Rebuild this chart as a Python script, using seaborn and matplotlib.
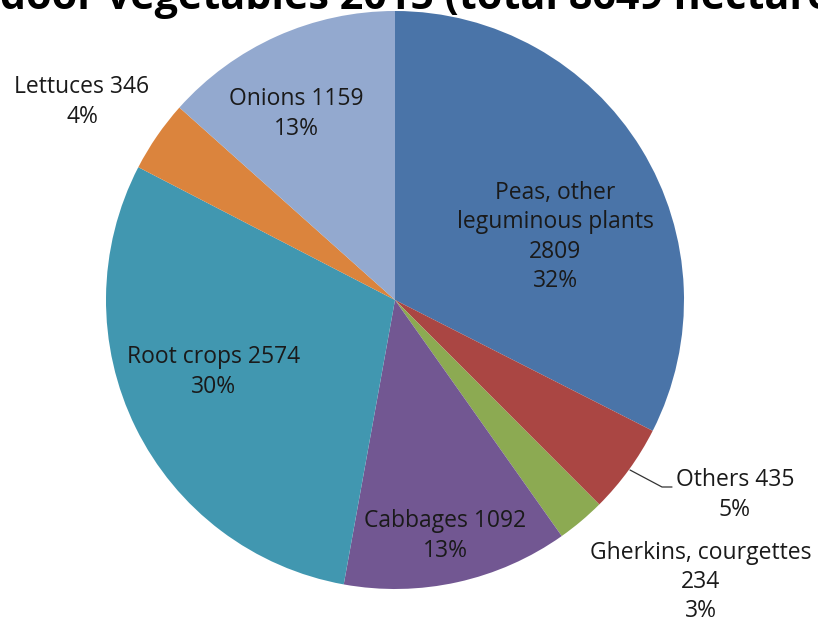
import matplotlib
matplotlib.use("Agg")
import matplotlib.pyplot as plt
import seaborn as sns

sns.set_theme(style="white")
plt.rcParams['font.family'] = ['Open Sans', 'DejaVu Sans']

# data
categories = ["Peas, other\nleguminous plants", "Others", "Gherkins, courgettes",
              "Cabbages", "Root crops", "Lettuces", "Onions"]
hectares = [2809, 435, 234, 1092, 2574, 346, 1159]
percents = ["32%", "5%", "3%", "13%", "30%", "4%", "13%"]
colors = ["#4A74A8", "#AA4643", "#8CAA52", "#725792", "#4197B0", "#DB843D", "#93A9CF"]
title_head = "Out"
title_body = "door vegetables 2015 ("
title_tail = "total 8649 hectares)"

W, H = 818, 627
fig = plt.figure(figsize=(W / 100, H / 100), dpi=100)
ax = fig.add_axes([0, 0, 1, 1])

cx, cy, r = 395, H - 300, 289
ax.pie(hectares, colors=colors, startangle=90, counterclock=False,
       center=(cx, cy), radius=r, frame=True,
       wedgeprops=dict(linewidth=0))
ax.set_xlim(0, W)
ax.set_ylim(0, H)
ax.axis("off")

# label layout (pixel positions from top-left)
label_texts = [
    f"{categories[0]}\n{hectares[0]}\n{percents[0]}",
    f"{categories[1]} {hectares[1]}\n{percents[1]}",
    f"{categories[2]}\n{hectares[2]}\n{percents[2]}",
    f"{categories[3]} {hectares[3]}\n{percents[3]}",
    f"{categories[4]} {hectares[4]}\n{percents[4]}",
    f"{categories[5]} {hectares[5]}\n{percents[5]}",
    f"{categories[6]} {hectares[6]}\n{percents[6]}",
]
label_pos = [(555, 237), (735, 495), (701, 582), (445, 536), (214, 372), (82, 102), (296, 114)]
fs = 16.5
for t, (px, py) in zip(label_texts, label_pos):
    ax.text(px, H - py, t, ha="center", va="center", fontsize=fs,
            color="#1a1a1a", linespacing=1.3)

# leader line for Others
ax.plot([630, 662, 672], [H - 470, H - 487, H - 487], color="#333333", lw=0.9)

# title, cropped at the top edge as in the reference
renderer = fig.canvas.get_renderer()
probe = fig.text(0, 0, title_body, fontsize=30, fontweight="bold")
w_body = probe.get_window_extent(renderer).width
tfs = 30 * 458 / w_body
probe.set_fontsize(tfs)
probe.set_text(title_head)
w_head = probe.get_window_extent(renderer).width
probe.remove()
fig.text(-w_head / W, 1 - 9 / H, title_head + title_body + title_tail,
         ha="left", va="baseline", fontsize=tfs, fontweight="bold", color="black")

fig.savefig("out.png", dpi=100)
